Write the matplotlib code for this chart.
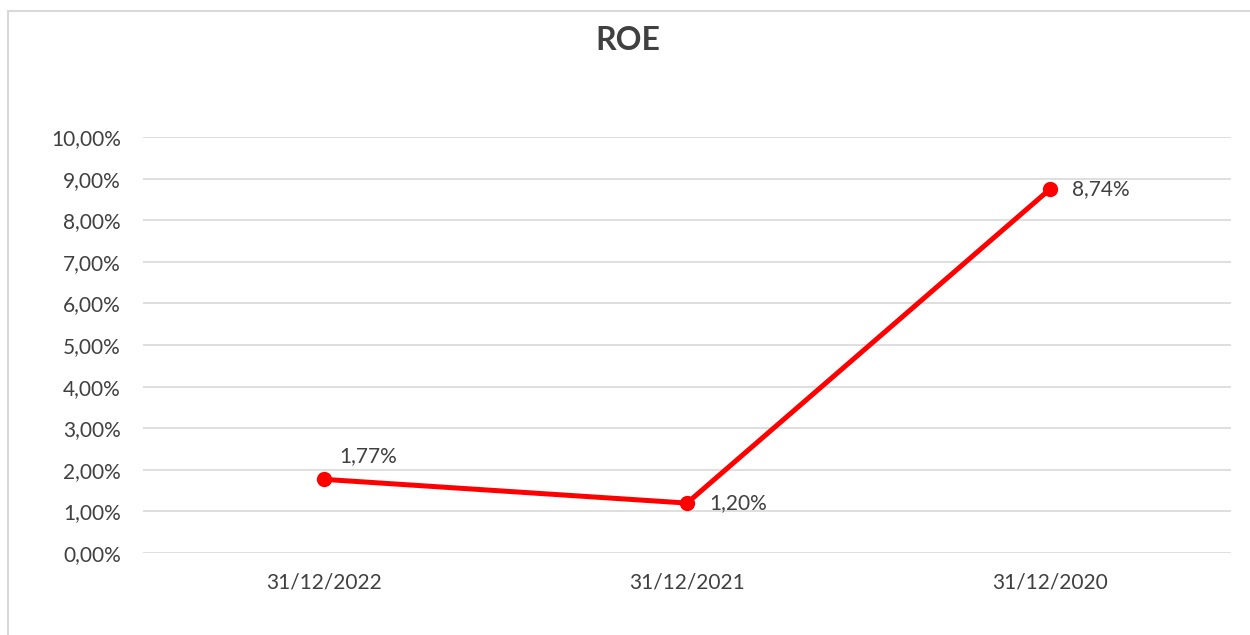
import matplotlib
matplotlib.use("Agg")
import matplotlib.pyplot as plt
from matplotlib.patches import Rectangle
from matplotlib.ticker import FuncFormatter

# data
categories = ["31/12/2022", "31/12/2021", "31/12/2020"]
roe = [1.77, 1.20, 8.74]
y_ticks = [0, 1, 2, 3, 4, 5, 6, 7, 8, 9, 10]

plt.rcParams["font.family"] = ["Lato", "DejaVu Sans"]

TEXT = "#404040"
GRID = "#d9d9d9"
RED = "#ff0000"
FS = 15


def pct(v, _=None):
    return f"{v:.2f}%".replace(".", ",")


fig = plt.figure(figsize=(12.5, 6.35), dpi=100)
fig.patches.append(Rectangle((8 / 1250, -0.1), 1.2, 1 - 11 / 635 + 0.1,
                             transform=fig.transFigure, fill=False,
                             edgecolor=GRID, linewidth=1.5))

ax = fig.add_axes([143 / 1250, 1 - 553 / 635, (1231 - 143) / 1250, (553 - 137) / 635])
x = list(range(len(categories)))
ax.plot(x, roe, color=RED, linewidth=3.6, marker="o", markersize=10,
        solid_capstyle="round", zorder=3)

ax.set_xlim(-0.5, len(categories) - 0.5)
ax.set_ylim(0, 10)
ax.set_yticks(y_ticks)
ax.yaxis.set_major_formatter(FuncFormatter(pct))
ax.set_xticks(x)
ax.set_xticklabels(categories)
ax.tick_params(axis="both", length=0, labelsize=FS, colors=TEXT)
ax.tick_params(axis="y", pad=16)
ax.tick_params(axis="x", pad=14)
ax.grid(axis="y", color=GRID, linewidth=1.2)
ax.set_axisbelow(True)
for s in ax.spines.values():
    s.set_visible(False)

# data labels
offsets = [(11, 17), (16, 0), (16, 0)]
for xi, v, (dx, dy) in zip(x, roe, offsets):
    ax.annotate(pct(v), (xi, v), xytext=(dx, dy), textcoords="offset points",
                ha="left", va="center", fontsize=FS, color=TEXT)

fig.text(628 / 1250, 1 - 40 / 635, "ROE", ha="center", va="center",
         fontsize=23, fontweight="bold", color=TEXT)

fig.savefig("out.png", dpi=100)
